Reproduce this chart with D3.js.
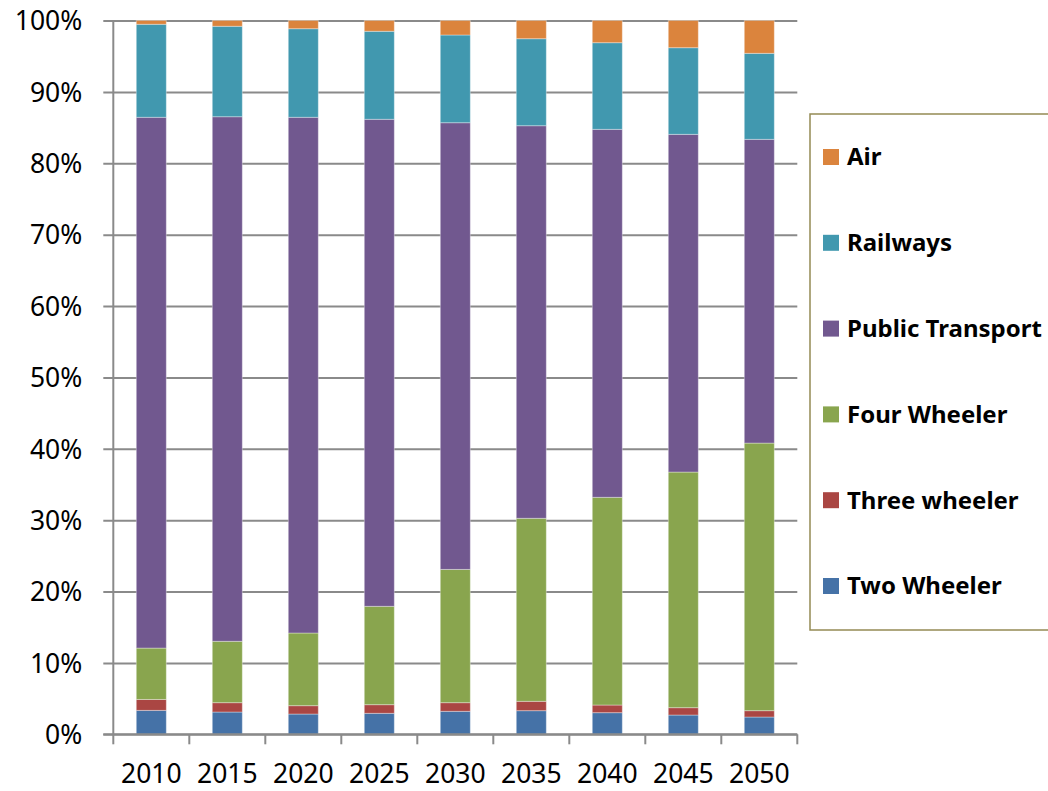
<!DOCTYPE html>
<html>
<head>
<meta charset="utf-8">
<script src="https://cdn.jsdelivr.net/npm/d3@7"></script>
<style>
  html, body { margin: 0; padding: 0; background: #fff; }
  svg { display: block; font-family: "Noto Sans", "Open Sans", sans-serif; }
</style>
</head>
<body>
<svg id="chart" width="1048" height="791"></svg>
<script>
// Mode share of passenger travel (%), by year
const years = ["2010", "2015", "2020", "2025", "2030", "2035", "2040", "2045", "2050"];
const twoWheeler      = [3.35, 3.12, 2.84, 2.94, 3.22, 3.31, 3.03, 2.70, 2.42];
const threeWheeler    = [1.53, 1.31, 1.17, 1.21, 1.21, 1.31, 1.07, 1.03, 0.89];
const fourWheeler     = [7.20, 8.60, 10.18, 13.78, 18.67, 25.64, 29.10, 33.01, 37.49];
const publicTransport = [74.36, 73.49, 72.25, 68.23, 62.58, 55.00, 51.55, 47.31, 42.55];
const railways        = [13.03, 12.67, 12.41, 12.33, 12.29, 12.19, 12.14, 12.14, 12.05];
const air             = [0.53, 0.81, 1.15, 1.51, 2.03, 2.55, 3.11, 3.81, 4.60];

const seriesNames = ["Two Wheeler", "Three wheeler", "Four Wheeler", "Public Transport", "Railways", "Air"];
const seriesValues = [twoWheeler, threeWheeler, fourWheeler, publicTransport, railways, air];
const seriesColors = ["#4572A7", "#AA4643", "#89A54E", "#71588F", "#4198AF", "#DB843D"];
const yTicks = [0, 0.1, 0.2, 0.3, 0.4, 0.5, 0.6, 0.7, 0.8, 0.9, 1.0];

const rows = years.map((yr, i) => {
  const r = { year: yr };
  seriesNames.forEach((s, k) => { r[s] = seriesValues[k][i]; });
  return r;
});

const stack = d3.stack().keys(seriesNames).offset(d3.stackOffsetExpand);
const layers = stack(rows);

const svg = d3.select("#chart");
const plotLeft = 113.3, plotRight = 797.3, plotTop = 20.5, plotBottom = 734.3;

const x = d3.scaleBand().domain(years).range([plotLeft, plotRight])
  .paddingInner(0.605).paddingOuter(0.3025);
const y = d3.scaleLinear().domain([0, 1]).range([plotBottom, plotTop]);
const color = d3.scaleOrdinal().domain(seriesNames).range(seriesColors);

const gridColor = "#8a8a8a";

// horizontal gridlines with left tick stubs
const yAxis = d3.axisLeft(y).tickValues(yTicks).tickFormat(d3.format(".0%"))
  .tickSize(-(plotRight - plotLeft)).tickPadding(0);
const gy = svg.append("g").attr("transform", `translate(${plotLeft},0)`).call(yAxis);
gy.select(".domain").remove();
gy.selectAll(".tick line").attr("x1", -10).attr("stroke", gridColor).attr("stroke-width", 2);
gy.selectAll(".tick text")
  .attr("x", -31).attr("dy", "0.35em")
  .attr("fill", "#000").style("font-size", "26.5px")
  .style("font-family", "'Noto Sans', 'Open Sans', sans-serif");

// stacked bars
svg.append("g").selectAll("g")
  .data(layers).join("g")
  .attr("fill", d => color(d.key))
  .selectAll("rect")
  .data(d => d).join("rect")
  .attr("x", d => x(d.data.year))
  .attr("width", x.bandwidth())
  .attr("y", d => y(d[1]))
  .attr("height", d => y(d[0]) - y(d[1]))
  .attr("stroke", "rgba(255,255,255,0.35)")
  .attr("stroke-width", 1);

// vertical axis line
svg.append("line")
  .attr("x1", plotLeft).attr("x2", plotLeft).attr("y1", plotTop).attr("y2", plotBottom + 1)
  .attr("stroke", gridColor).attr("stroke-width", 2);

// category axis with ticks between categories
const step = x.step();
const boundaries = d3.range(years.length + 1).map(i => plotLeft + i * step);
const gx = svg.append("g");
gx.append("line")
  .attr("x1", plotLeft - 10).attr("x2", plotRight).attr("y1", plotBottom).attr("y2", plotBottom)
  .attr("stroke", gridColor).attr("stroke-width", 2);
gx.selectAll("line.tk").data(boundaries).join("line").attr("class", "tk")
  .attr("x1", d => d).attr("x2", d => d)
  .attr("y1", plotBottom).attr("y2", plotBottom + 10)
  .attr("stroke", gridColor).attr("stroke-width", 2);
gx.selectAll("text").data(years).join("text")
  .attr("x", d => x(d) + x.bandwidth() / 2)
  .attr("y", 783)
  .attr("text-anchor", "middle")
  .style("font-size", "26.5px")
  .attr("fill", "#000")
  .text(d => d);

// legend
const legend = svg.append("g");
legend.append("rect")
  .attr("x", 810).attr("y", 114).attr("width", 260).attr("height", 516)
  .attr("fill", "#fff").attr("stroke", "#948A54").attr("stroke-width", 1.5);
const legendOrder = seriesNames.slice().reverse();
const item = legend.selectAll("g.item").data(legendOrder).join("g").attr("class", "item")
  .attr("transform", (d, i) => `translate(823, ${157 + i * 85.8})`);
item.append("rect")
  .attr("x", 0).attr("y", -8).attr("width", 16).attr("height", 16)
  .attr("fill", d => color(d));
item.append("text")
  .attr("x", 24).attr("dy", "0.35em")
  .style("font-size", "24px").style("font-weight", "bold")
  .attr("fill", "#000")
  .text(d => d);
</script>
</body>
</html>
